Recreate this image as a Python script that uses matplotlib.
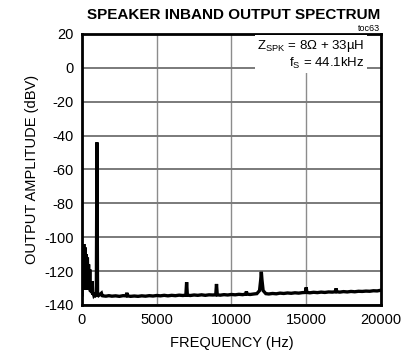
import matplotlib
matplotlib.use("Agg")
import matplotlib.pyplot as plt

plt.rcParams["font.family"] = ["Liberation Sans", "DejaVu Sans"]
plt.rcParams["axes.unicode_minus"] = False

freq_hz = [
    0, 40, 80, 120, 160, 200, 240, 280, 320, 360, 400, 440, 480, 520, 560,
    600, 640, 680, 720, 760, 800, 850, 900, 960, 1000, 1040, 1100, 1300, 1350,
    1400, 1600, 1800, 2000, 2250, 2500, 2750, 2950, 3000, 3050, 3250, 3500,
    3750, 4000, 4250, 4500, 4750, 5000, 5250, 5500, 5750, 6000, 6250, 6500,
    6750, 6950, 7000, 7050, 7250, 7500, 7750, 8000, 8250, 8500, 8750, 8950,
    9000, 9050, 9250, 9500, 9750, 10000, 10250, 10500, 10750, 10950, 11000,
    11050, 11250, 11500, 11700, 11880, 11960, 12000, 12040, 12120, 12300,
    12500, 12750, 13000, 13250, 13500, 13750, 14000, 14250, 14500, 14750,
    14950, 15000, 15050, 15250, 15500, 15750, 16000, 16250, 16500, 16750,
    16950, 17000, 17050, 17250, 17500, 17750, 18000, 18250, 18500, 18750,
    19000, 19250, 19500, 19750, 20000,
]
amp_dbv = [
    -134, -108, -130, -104, -131, -106, -128, -110, -131, -112, -129, -116,
    -131, -119, -132, -127, -133, -126, -134, -133, -134.5, -134, -134.5, -134,
    -44, -134, -134.5, -133, -134.5,
    -134.6, -134.8, -134.5, -134.8, -134.6, -134.9, -134.5, -134.6, -132.8,
    -134.6, -134.9, -134.7,
    -134.9, -134.6, -134.8, -134.5, -134.7, -134.4, -134.6, -134.3, -134.6,
    -134.3, -134.5, -134.2,
    -134.4, -134.2, -126.5, -134.2, -134.4, -134.1, -134.3, -134.0, -134.3,
    -134.0, -134.1, -134.0,
    -127.6, -134.0, -134.2, -133.9, -134.1, -133.8, -134.0, -133.7, -133.9,
    -133.6, -132.0,
    -133.6, -133.8, -133.5, -133.3, -131.5, -125.0, -120.4, -125.0, -131.5,
    -133.3,
    -133.5, -133.2, -133.4, -133.0, -133.2, -132.9, -133.1, -132.8, -133.0,
    -132.7,
    -132.6, -129.6, -132.6, -132.8, -132.5, -132.7, -132.4, -132.6, -132.3,
    -132.4,
    -132.2, -130.2, -132.2, -132.4, -132.1, -132.3, -132.0, -132.2, -131.9,
    -132.0,
    -131.8, -131.9, -131.6, -131.7, -131.3,
]

x_ticks = [0, 5000, 10000, 15000, 20000]
y_ticks = [20, 0, -20, -40, -60, -80, -100, -120, -140]

fig = plt.figure(figsize=(4.1, 3.56), dpi=100)
ax = fig.add_axes([0.2, 0.1433, 0.729, 0.7612])

ax.plot(freq_hz, amp_dbv, color="black", lw=2.4, solid_joinstyle="miter")

ax.set_xlim(0, 20000)
ax.set_ylim(-140, 20)
ax.set_xticks(x_ticks)
ax.set_yticks(y_ticks)
ax.tick_params(length=0, labelsize=10.5, pad=6)
ax.xaxis.grid(True, color="#8c8c8c", lw=1.0)
ax.yaxis.grid(True, color="#7a7a7a", lw=1.4)
ax.set_axisbelow(True)
for s in ax.spines.values():
    s.set_linewidth(2)

ax.set_xlabel("FREQUENCY (Hz)", fontsize=10.5, labelpad=6)
ax.set_ylabel("OUTPUT AMPLITUDE (dBV)", fontsize=10.5, labelpad=4)

fig.text(0.571, 0.958, "SPEAKER INBAND OUTPUT SPECTRUM",
         ha="center", va="center", fontsize=11, fontweight="bold",
         family=["Liberation Sans Narrow", "Liberation Sans"])
fig.text(0.927, 0.912, "toc63", ha="right", va="baseline", fontsize=6.5)

ax.text(0.945, 0.985, "Z$_{\\mathregular{SPK}}$ = 8Ω + 33µH\nf$_{\\mathregular{S}}$ = 44.1kHz",
        transform=ax.transAxes, ha="right", va="top", fontsize=9.5,
        linespacing=1.2,
        bbox=dict(facecolor="white", edgecolor="none", pad=1.5))

fig.savefig("out.png", dpi=100)
